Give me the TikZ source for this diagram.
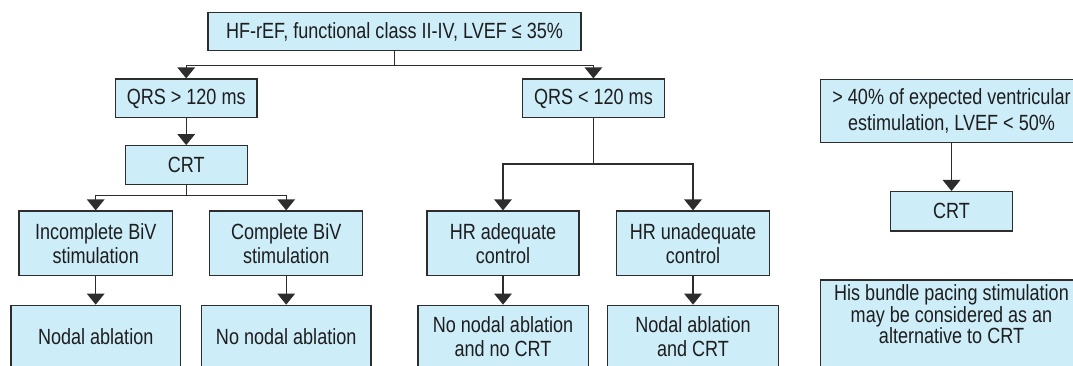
\documentclass[tikz,border=0pt]{standalone}
\usepackage{fontspec}
\setmainfont{Liberation Sans}[FakeStretch=0.82]
\usetikzlibrary{arrows.meta}
\definecolor{boxfill}{RGB}{205,237,249}
\definecolor{boxline}{RGB}{45,45,45}
\definecolor{ink}{RGB}{30,30,30}
\begin{document}
\begin{tikzpicture}[x=1pt,y=-1pt,
  box/.style={draw=boxline, fill=boxfill, line width=1.3pt, inner sep=0pt,
    text=ink, align=center, font=\fontsize{22}{24}\selectfont},
  label text/.style={inner sep=0pt, text=ink, align=center},
  conn/.style={draw=boxline, line width=1.3pt},
  arr/.style={conn, -{Triangle[width=17.5pt,length=11pt]}},
]
\useasboundingbox (0,0) rectangle (1073,366);
\fill[white] (0,0) rectangle (1073,366);

% main decision tree
\node[box, minimum width=373pt, minimum height=38.4pt] (top) at (394.5,31.5)
  {HF-rEF, functional class II-IV, LVEF ≤ 35\%};
\node[box, minimum width=141.6pt, minimum height=38.7pt] (q1) at (186.2,98.4) {QRS > 120 ms};
\node[box, minimum width=142pt, minimum height=38.7pt] (q2) at (593.4,98.4) {QRS < 120 ms};
\node[box, minimum width=122pt, minimum height=38.5pt] (crt1) at (186.2,165) {CRT};

\node[box, minimum width=153.6pt, minimum height=64.5pt] (ib) at (95.7,243.3) {Incomplete BiV\\stimulation};
\node[box, minimum width=153pt, minimum height=64.5pt] (cb) at (286.2,243.3) {Complete BiV\\stimulation};
\node[box, minimum width=152pt, minimum height=64.5pt] (hra) at (503,243.3) {HR adequate\\control};
\node[box, minimum width=152.6pt, minimum height=64.5pt] (hru) at (693,243.3) {HR unadequate\\control};

\node[box, minimum width=169.4pt, minimum height=63.2pt] (na) at (95.7,336.9) {Nodal ablation};
\node[box, minimum width=169.5pt, minimum height=63.2pt] (nna) at (286.2,336.9) {No nodal ablation};
\node[box, minimum width=170.3pt, minimum height=63.2pt] (nnc) at (503,336.9) {No nodal ablation\\and no CRT};
\node[box, minimum width=170.6pt, minimum height=63.2pt] (nac) at (693,336.9) {Nodal ablation\\and CRT};

% right-hand column
\node[box, minimum width=261.6pt, minimum height=63.4pt,
  font=\fontsize{22}{26}\selectfont] (e40) at (951.5,111)
  {> 40\% of expected ventricular\\estimulation, LVEF < 50\%};
\node[box, minimum width=121.6pt, minimum height=39.3pt] (crt2) at (951.5,211.3) {CRT};
\node[box, minimum width=261.6pt, minimum height=100pt, anchor=north] (his) at (951.5,279.3) {};
\node[label text, anchor=north, font=\fontsize{22}{21.5}\selectfont] (histxt) at (951.5,284.5)
  {His bundle pacing stimulation\\may be considered as an\\alternative to CRT};

% connectors
\coordinate (j1) at (394.5,65.3);
\draw[conn] (top.south) -- (j1);
\draw[arr] (j1) -| (q1.north);
\draw[arr] (j1) -| (q2.north);
\draw[arr] (q1) -- (crt1);

\coordinate (j2) at (186.2,195.7);
\draw[conn] (crt1.south) -- (j2);
\draw[arr] (j2) -| (ib.north);
\draw[arr] (j2) -| (cb.north);
\draw[arr] (ib) -- (na);
\draw[arr] (cb) -- (nna);

\coordinate (j3) at (593.4,164);
\draw[conn] (q2.south) -- (j3);
\draw[arr] (j3) -| (hra.north);
\draw[arr] (j3) -| (hru.north);
\draw[arr] (hra) -- (nnc);
\draw[arr] (hru) -- (nac);

\draw[arr] (e40) -- (crt2);
\end{tikzpicture}
\end{document}
